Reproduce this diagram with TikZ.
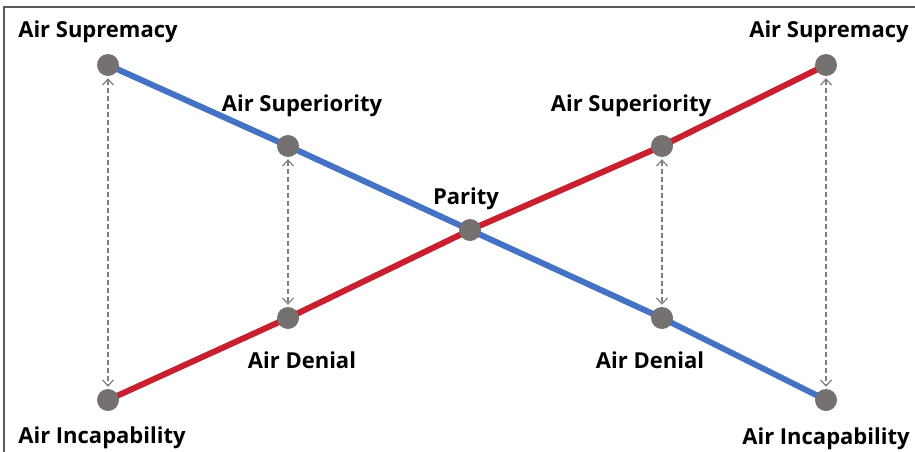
\documentclass[tikz,border=0pt]{standalone}
\usepackage{fontspec}
\setmainfont{Open Sans}
\usetikzlibrary{arrows.meta}
\definecolor{dotgray}{HTML}{757171}
\definecolor{lineblue}{HTML}{4472C4}
\definecolor{linered}{HTML}{C8202E}
\definecolor{framegray}{HTML}{5A5A5A}
\definecolor{dashgray}{HTML}{7F7F7F}
\tikzset{
  dotnode/.style={circle,minimum size=22pt,inner sep=0pt},
  dotfill/.style={fill=dotgray},
  lbl/.style={font=\bfseries\fontsize{22}{24}\selectfont,text=black,inner sep=0pt},
  blueline/.style={line width=6pt,draw=lineblue},
  redline/.style={line width=6pt,draw=linered},
  dasharrow/.style={draw=dashgray,line width=1.2pt,dash pattern=on 5pt off 3pt,
     {Straight Barb[length=6pt,width=11pt,line width=1.2pt]}-{Straight Barb[length=6pt,width=11pt,line width=1.2pt]}},
}
\begin{document}
\begin{tikzpicture}[x=1pt,y=-1pt]
\useasboundingbox (0,0) rectangle (915,452);
\fill[white] (0,0) rectangle (915,452);
\draw[framegray,line width=2pt] (4,452) -- (4,7) -- (915,7);
% nodes
\node[dotnode] (LS) at (108,65) {};
\node[dotnode] (LSu) at (288,146) {};
\node[dotnode] (P) at (470,230) {};
\node[dotnode] (RD) at (662,318) {};
\node[dotnode] (RI) at (826,400) {};
\node[dotnode] (LI) at (108,400) {};
\node[dotnode] (LD) at (288,318) {};
\node[dotnode] (RSu) at (662,146) {};
\node[dotnode] (RS) at (826,65) {};
% lines
\draw[blueline] (LS.center) -- (LSu.center) -- (P.center) -- (RD.center) -- (RI.center);
\draw[redline] (LI.center) -- (LD.center) -- (P.center) -- (RSu.center) -- (RS.center);
% dots on top
\foreach \n in {LS,LSu,P,RD,RI,LI,LD,RSu,RS}{\fill[dotfill] (\n.center) circle (11pt);}
% dashed arrows
\draw[dasharrow] ([yshift=-2pt]LS.south) -- ([yshift=2pt]LI.north);
\draw[dasharrow] ([yshift=-2pt]LSu.south) -- ([yshift=2pt]LD.north);
\draw[dasharrow] ([yshift=-2pt]RSu.south) -- ([yshift=2pt]RD.north);
\draw[dasharrow] ([yshift=-2pt]RS.south) -- ([yshift=2pt]RI.north);
% labels
\node[lbl] (tLS) at (98,32) {Air Supremacy};
\node[lbl] (tLSu) at (302,106) {Air Superiority};
\node[lbl] (tP) at (466,199) {Parity};
\node[lbl] (tRSu) at (631,106) {Air Superiority};
\node[lbl] (tRS) at (829,32) {Air Supremacy};
\node[lbl] (tLD) at (302,360) {Air Denial};
\node[lbl] (tRD) at (650,360) {Air Denial};
\node[lbl] (tLI) at (102,438) {Air Incapability};
\node[lbl] (tRI) at (826,439) {Air Incapability};
\end{tikzpicture}
\end{document}
